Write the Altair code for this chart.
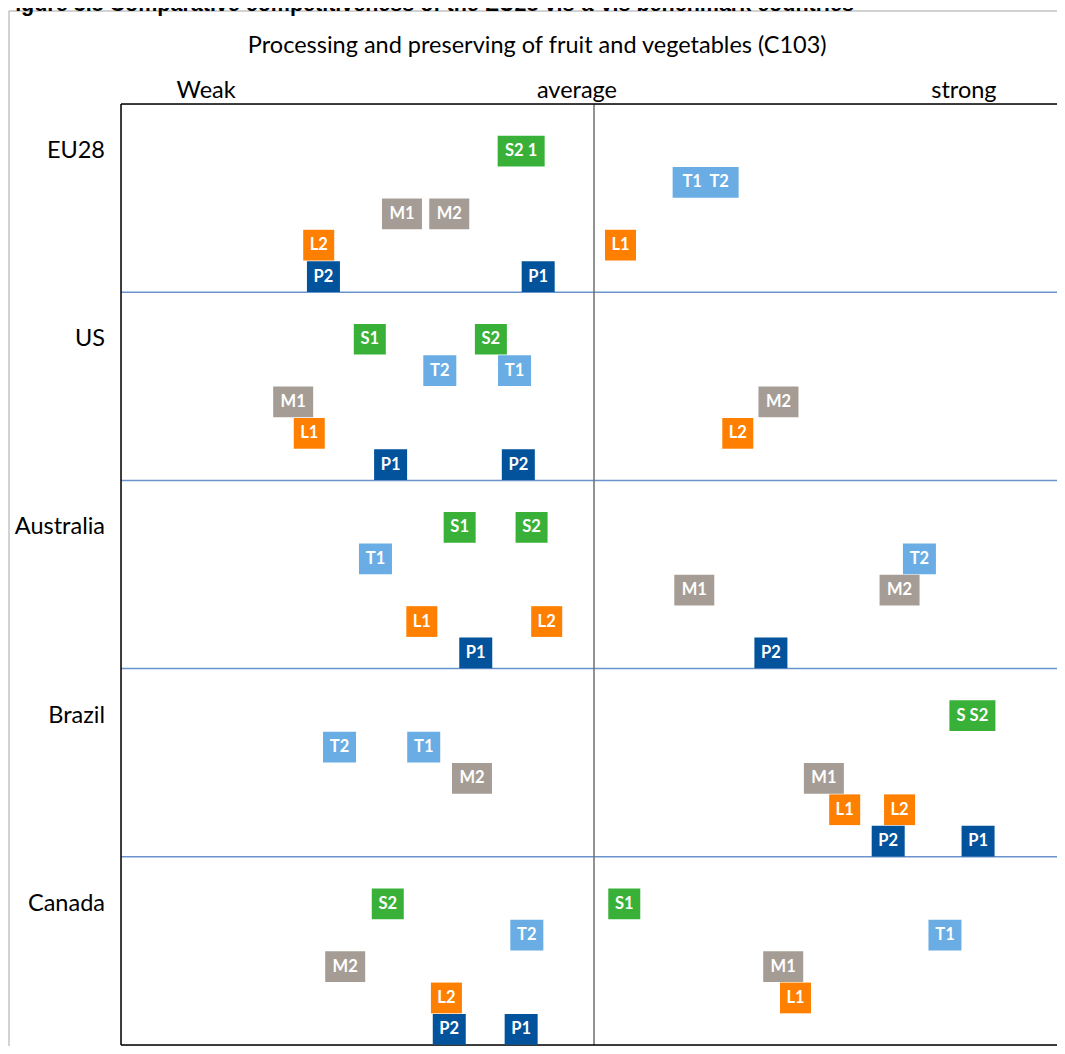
import altair as alt
import pandas as pd

# ---- data ----
countries = ["EU28", "US", "Australia", "Brazil", "Canada"]
groups = ["S", "T", "M", "L", "P"]
group_colors = ["#39B139", "#69ADE4", "#A59D95", "#FF7F00", "#02539C"]

box_country = [
    "EU28", "EU28", "EU28", "EU28", "EU28", "EU28", "EU28", "EU28",
    "US", "US", "US", "US", "US", "US", "US", "US", "US", "US",
    "Australia", "Australia", "Australia", "Australia", "Australia",
    "Australia", "Australia", "Australia", "Australia", "Australia",
    "Brazil", "Brazil", "Brazil", "Brazil", "Brazil", "Brazil", "Brazil", "Brazil", "Brazil",
    "Canada", "Canada", "Canada", "Canada", "Canada", "Canada", "Canada", "Canada",
    "Canada", "Canada",
]
box_group = [
    "S", "T", "M", "M", "L", "L", "P", "P",
    "S", "S", "T", "T", "M", "M", "L", "L", "P", "P",
    "S", "S", "T", "T", "M", "M", "L", "L", "P", "P",
    "S", "T", "T", "M", "M", "L", "L", "P", "P",
    "S", "S", "T", "T", "M", "M", "L", "L", "P", "P",
]
box_label = [
    "S2 1", "T1\u00a0\u00a0T2", "M1", "M2", "L2", "L1", "P2", "P1",
    "S1", "S2", "T2", "T1", "M1", "M2", "L1", "L2", "P1", "P2",
    "S1", "S2", "T1", "T2", "M1", "M2", "L1", "L2", "P1", "P2",
    "S S2", "T2", "T1", "M2", "M1", "L1", "L2", "P2", "P1",
    "S2", "S1", "T2", "T1", "M2", "M1", "L2", "L1", "P2", "P1",
]
box_score = [
    42.3, 61.8, 29.7, 34.7, 20.9, 52.8, 21.4, 44.1,
    26.3, 39.1, 33.7, 41.6, 18.2, 69.5, 19.9, 65.2, 28.5, 42.0,
    35.8, 43.4, 26.9, 84.4, 60.6, 82.3, 31.8, 45.0, 37.5, 68.7,
    90.0, 23.1, 32.0, 37.1, 74.3, 76.5, 82.3, 81.1, 90.6,
    28.2, 53.2, 42.9, 87.1, 23.7, 70.0, 34.4, 71.3, 34.7, 42.3,
]

scale_labels = ["Weak", "average", "strong"]
scale_label_pos = [9.0, 48.2, 89.1]
chart_title = "Processing and preserving of fruit and vegetables (C103)"
chart_title_pos = 44.0
figure_title = "Figure 3.8 Comparative competitiveness of the EU28 vis-à-vis benchmark countries"

# ---- layout ----
PX = 9.46              # pixels per score unit
W, H = 936, 941        # view size kept inside the page
XMAX = W / PX
special_w = {"S2 1": 47, "T1\u00a0\u00a0T2": 66, "S S2": 46}
group_w = {"S": 32, "T": 33, "M": 40, "L": 31, "P": 33}

recs = []
for c, g, lab, s in zip(box_country, box_group, box_label, box_score):
    r = countries.index(c)
    k = groups.index(g) + 1
    yc = r * 6 + k + 0.5
    w = special_w.get(lab, group_w[g])
    recs.append(dict(country=c, group=g, label=lab, score=s,
                     x0=s - w / 2 / PX, x1=s + w / 2 / PX,
                     yc=yc, y0=yc - 0.49, y1=yc + 0.49))
boxes = pd.DataFrame(recs)

xs = alt.Scale(domain=[0, XMAX], nice=False, zero=False)
ys = alt.Scale(domain=[0, 30], nice=False, zero=False, reverse=True)

one = pd.DataFrame({"a": [0]})
FONT = "Lato"

frame_left = alt.Chart(one).mark_rule(color="#A6A6A6", strokeWidth=1).encode(
    x=alt.value(-112), y=alt.value(-93), y2=alt.value(H + 20))
frame_top = alt.Chart(one).mark_rule(color="#A6A6A6", strokeWidth=1).encode(
    y=alt.value(-93), x=alt.value(-112), x2=alt.value(W + 20))

border_top = alt.Chart(one).mark_rule(color="#000000", strokeWidth=1.5).encode(
    y=alt.value(0), x=alt.value(0), x2=alt.value(W + 5))
border_bottom = alt.Chart(one).mark_rule(color="#000000", strokeWidth=1.5).encode(
    y=alt.value(H), x=alt.value(0), x2=alt.value(W + 5))
border_left = alt.Chart(one).mark_rule(color="#000000", strokeWidth=1.5).encode(
    x=alt.value(0), y=alt.value(0), y2=alt.value(H))

fig_df = pd.DataFrame({"t": [figure_title]})
fig_title = alt.Chart(fig_df).mark_text(
    font="Liberation Sans", fontWeight="bold", fontSize=21.5,
    align="left", baseline="alphabetic", color="#000000").encode(
    x=alt.value(-119), y=alt.value(-93.5), text="t:N")

title_df = pd.DataFrame({"t": [chart_title], "pos": [chart_title_pos]})
title = alt.Chart(title_df).mark_text(
    font=FONT, fontSize=23.5, align="center",
    baseline="middle", color="#000000").encode(
    x=alt.X("pos:Q", scale=xs, axis=None), y=alt.value(-58), text="t:N")

top_df = pd.DataFrame({"lab": scale_labels, "pos": scale_label_pos})
top_labels = alt.Chart(top_df).mark_text(
    font=FONT, fontSize=23.5, align="center", baseline="middle", color="#000000").encode(
    x=alt.X("pos:Q", scale=xs, axis=None), y=alt.value(-13), text="lab:N")

sep_df = pd.DataFrame({"y": [6, 12, 18, 24]})
seps = alt.Chart(sep_df).mark_rule(color="#6A93CC", strokeWidth=1.5).encode(
    y=alt.Y("y:Q", scale=ys, axis=None), x=alt.value(0), x2=alt.value(W + 5))

mid_df = pd.DataFrame({"x": [50]})
mid = alt.Chart(mid_df).mark_rule(color="#6E6E6E", strokeWidth=1.5).encode(
    x=alt.X("x:Q", scale=xs, axis=None), y=alt.value(0), y2=alt.value(H))

ctry_df = pd.DataFrame({"country": countries,
                        "y": [r * 6 + 1.5 for r in range(len(countries))]})
ctry = alt.Chart(ctry_df).mark_text(
    font=FONT, fontSize=23.5, align="right", baseline="middle", color="#000000").encode(
    x=alt.value(-16), y=alt.Y("y:Q", scale=ys, axis=None), text="country:N")

rects = alt.Chart(boxes).mark_rect().encode(
    x=alt.X("x0:Q", scale=xs, axis=None), x2="x1:Q",
    y=alt.Y("y0:Q", scale=ys, axis=None), y2="y1:Q",
    color=alt.Color("group:N", scale=alt.Scale(domain=groups, range=group_colors), legend=None))

texts = alt.Chart(boxes).mark_text(
    font=FONT, fontWeight="bold", fontSize=16.5, color="white",
    align="center", baseline="middle").encode(
    x=alt.X("score:Q", scale=xs, axis=None),
    y=alt.Y("yc:Q", scale=ys, axis=None), text="label:N")

chart = alt.layer(
    frame_left, frame_top, fig_title, title, top_labels, seps, mid,
    border_top, border_bottom, border_left, ctry, rects, texts
).properties(
    width=W, height=H,
    padding={"left": 113, "top": 96, "right": 0, "bottom": 1},
    autosize=alt.AutoSizeParams(type="none"),
).configure_view(strokeWidth=0).configure(background="white")

chart.save("out.html", embed_options={"renderer": "svg", "actions": False})
